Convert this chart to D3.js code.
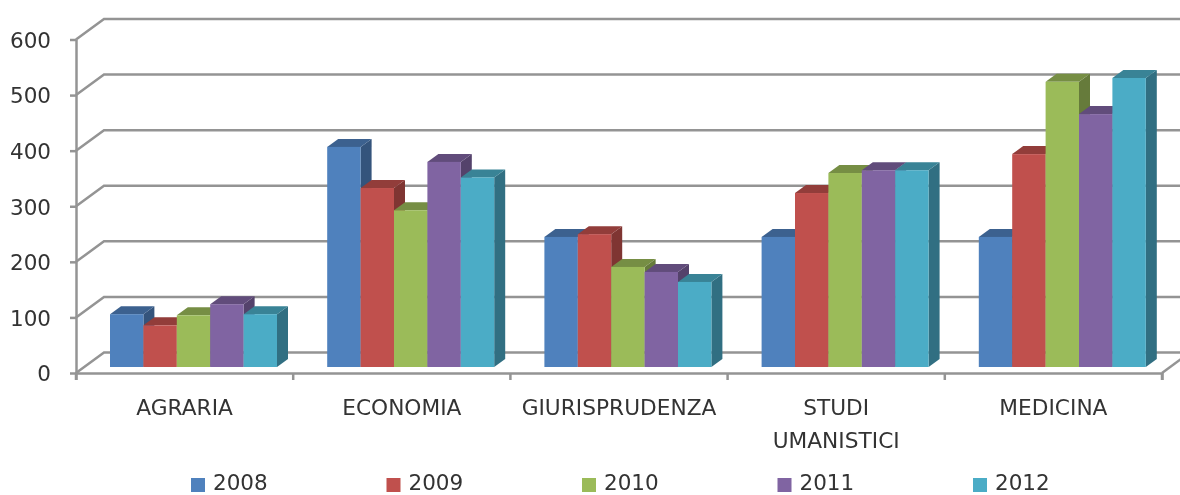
<!DOCTYPE html>
<html>
<head>
<meta charset="utf-8">
<script src="https://cdnjs.cloudflare.com/ajax/libs/d3/7.8.5/d3.min.js"></script>
<style>
body { margin: 0; background: #fff; overflow: hidden; }
svg { filter: blur(0.5px); }
text { font-family: "DejaVu Sans", sans-serif; fill: #333; }
</style>
</head>
<body>
<div id="chart"></div>
<script>
var categories = [["AGRARIA"], ["ECONOMIA"], ["GIURISPRUDENZA"], ["STUDI", "UMANISTICI"], ["MEDICINA"]];
var years = ["2008", "2009", "2010", "2011", "2012"];
var v2008 = [95, 396, 234, 234, 234];
var v2009 = [75, 322, 239, 313, 383];
var v2010 = [93, 282, 180, 349, 513];
var v2011 = [113, 369, 171, 354, 455];
var v2012 = [95, 341, 153, 354, 520];
var series = [v2008, v2009, v2010, v2011, v2012];
var yTicks = [0, 100, 200, 300, 400, 500, 600];

var frontColors = ["#4f81bd", "#c0504d", "#9bbb59", "#8064a2", "#4bacc6"];
var topColors = ["#3c618f", "#923d3a", "#768e44", "#614c7b", "#398396"];
var sideColors = ["#34547c", "#7f3532", "#667b3b", "#54426b", "#316f82"];

var w = 1180, h = 495;
var x0 = 76, x1 = 1162, y0 = 373, y1 = 39.5;
var wallX = 28, wallY = 20.5;   // depth of the back wall
var barX = 6, barY = 6;         // bars stand a bit in from the front edge
var depthX = 11, depthY = 8;    // depth of one bar
var gridColor = "#949494";

var svg = d3.select("#chart").append("svg").attr("width", w).attr("height", h);

var y = d3.scaleLinear().domain([0, 600]).range([y0, y1]);
var x = d3.scaleBand().domain(d3.range(categories.length)).range([x0, x1]);
var inner = d3.scaleBand().domain(d3.range(years.length))
    .range([28, 195]);

// gridlines on the floor, side wall and back wall
svg.append("g").selectAll("path").data(yTicks).enter().append("path")
    .attr("d", function(d) {
        return "M" + x0 + "," + y(d) + "L" + (x0 + wallX) + "," + (y(d) - wallY) + "L" + (x1 + wallX) + "," + (y(d) - wallY);
    })
    .attr("fill", "none").attr("stroke", gridColor).attr("stroke-width", 2.5);

svg.append("path")
    .attr("d", "M" + x1 + "," + y0 + "L" + (x1 + wallX) + "," + (y0 - wallY))
    .attr("fill", "none").attr("stroke", gridColor).attr("stroke-width", 2.5);

// axes
var yAxis = d3.axisLeft(y).tickValues(yTicks).tickSize(6).tickPadding(19).tickSizeOuter(0);
var gy = svg.append("g").attr("transform", "translate(" + x0 + ",0)").call(yAxis);
gy.selectAll("text").attr("font-size", 21.5).attr("font-family", "DejaVu Sans").attr("dy", "0.36em");

var xAxis = d3.axisBottom(x).tickValues([]).tickSizeOuter(7);
var gx = svg.append("g").attr("transform", "translate(0," + y0 + ")").call(xAxis);
svg.append("g").selectAll("line").data(d3.range(categories.length + 1)).enter().append("line")
    .attr("x1", function(d) { return x0 + d * x.bandwidth(); })
    .attr("x2", function(d) { return x0 + d * x.bandwidth(); })
    .attr("y1", y0).attr("y2", y0 + 7)
    .attr("stroke", gridColor).attr("stroke-width", 2.5);
svg.selectAll(".domain, .tick line").attr("stroke", gridColor).attr("stroke-width", 2.5);

// bars, left to right so the next one covers the side of the previous
categories.forEach(function(c, i) {
    var g = svg.append("g").attr("transform", "translate(" + x(i) + ",0)");
    years.forEach(function(yr, s) {
        var val = series[s][i];
        var left = inner(s) + barX;
        var right = left + inner.bandwidth();
        var base = y(0) - barY;
        var top = y(val) - barY;
        g.append("path")
            .attr("d", "M" + right + "," + top + "L" + (right + depthX) + "," + (top - depthY) + "L" + (right + depthX) + "," + (base - depthY) + "L" + right + "," + base + "Z")
            .attr("fill", sideColors[s]);
        g.append("path")
            .attr("d", "M" + left + "," + top + "L" + (left + depthX) + "," + (top - depthY) + "L" + (right + depthX) + "," + (top - depthY) + "L" + right + "," + top + "Z")
            .attr("fill", topColors[s]);
        g.append("rect")
            .attr("x", left).attr("y", top)
            .attr("width", inner.bandwidth()).attr("height", base - top)
            .attr("fill", frontColors[s]);
    });
});

// category labels
var labels = svg.append("g").selectAll("text").data(categories).enter().append("text")
    .attr("text-anchor", "middle").attr("font-size", 21.7);
labels.each(function(d, i) {
    d3.select(this).selectAll("tspan").data(d).enter().append("tspan")
        .attr("x", x(i) + x.bandwidth() / 2)
        .attr("y", function(t, j) { return 415 + j * 33; })
        .text(function(t) { return t; });
});

// legend
var legendX = d3.scalePoint().domain(years).range([191, 973]);
var lg = svg.append("g").selectAll("g").data(years).enter().append("g")
    .attr("transform", function(d) { return "translate(" + legendX(d) + ",478)"; });
lg.append("rect").attr("width", 14).attr("height", 14)
    .attr("fill", function(d, i) { return frontColors[i]; });
lg.append("text").attr("x", 22).attr("y", 12).attr("font-size", 21.5)
    .text(function(d) { return d; });
</script>
</body>
</html>
